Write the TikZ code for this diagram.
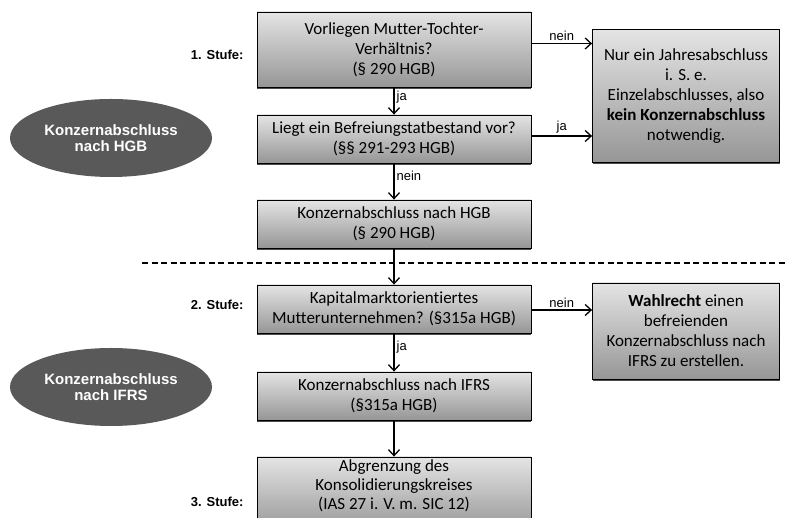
\documentclass[tikz,border=0pt]{standalone}
\usepackage{fontspec}
\setmainfont{Carlito}[Ligatures=NoCommon]
\newfontfamily\arialfont{Liberation Sans}
\usepackage{tikz}
\usetikzlibrary{shapes.geometric,arrows.meta,shadows}

\definecolor{boxTop}{RGB}{228,228,228}
\definecolor{boxBottom}{RGB}{150,150,150}
\definecolor{ovalGray}{RGB}{89,89,89}

\begin{document}
\begin{tikzpicture}[x=1pt,y=1pt,
  box/.style={draw=black,line width=0.8pt,top color=boxTop,bottom color=boxBottom,align=center,inner sep=2pt,
    font=\fontsize{17}{20}\selectfont,
    drop shadow={shadow xshift=0pt,shadow yshift=-1.6pt,opacity=1,fill=black!70}},
  midbox/.style={box,minimum width=274pt},
  sidebox/.style={box,minimum width=187pt},
  oval/.style={ellipse,fill=ovalGray,text=white,align=center,inner sep=0pt,minimum width=202pt,minimum height=78pt,
    font=\arialfont\bfseries\fontsize{15}{16.5}\selectfont},
  stufe/.style={anchor=east,font=\arialfont\bfseries\fontsize{13}{15}\selectfont},
  lab/.style={font=\arialfont\fontsize{13}{15}\selectfont,inner sep=2pt},
  arr/.style={line width=1.3pt,-{Straight Barb[length=6pt,width=11pt]}}]
\clip (0,0) rectangle (787,518);
% Stufe 1 (HGB)
\node[midbox,minimum height=75pt] (mutter) at (394,468.5) {Vorliegen Mutter-Tochter-\\Verhältnis?\\(§ 290 HGB)};
\node[midbox,minimum height=48pt] (befreiung) at (394,379) {Liegt ein Befreiungstatbestand vor?\\(§§ 291-293 HGB)};
\node[midbox,minimum height=48pt] (konzHGB) at (394,294) {Konzernabschluss nach HGB\\(§ 290 HGB)};
\node[sidebox,minimum height=133pt] (einzel) at (686,422) {Nur ein Jahresabschluss\\i. S. e.\\Einzelabschlusses, also\\\textbf{kein Konzernabschluss}\\notwendig.};
% Stufe 2 und 3 (IFRS)
\node[midbox,minimum height=48pt] (kapital) at (394,209) {Kapitalmarktorientiertes\\Mutterunternehmen? (§315a HGB)};
\node[midbox,minimum height=48pt] (konzIFRS) at (394,122) {Konzernabschluss nach IFRS\\(§315a HGB)};
\node[midbox,minimum height=75pt,text depth=20pt,font=\fontsize{17}{19}\selectfont] (kreis) at (394,23.5) {Abgrenzung des\\Konsolidierungskreises\\(IAS 27 i. V. m. SIC 12)};
\node[sidebox,minimum height=96pt] (wahlrecht) at (686,187) {\textbf{Wahlrecht} einen\\befreienden\\Konzernabschluss nach\\IFRS zu erstellen.};
% Ellipsen und Stufen
\node[oval] (ovalHGB) at (111,380) {Konzernabschluss\\nach HGB};
\node[oval] (ovalIFRS) at (111,131) {Konzernabschluss\\nach IFRS};
\node[stufe] (stufe1) at (247,463) {1. Stufe:};
\node[stufe] (stufe2) at (247,213) {2. Stufe:};
\node[stufe] (stufe3) at (247,16) {3. Stufe:};
% Trennlinie
\draw[line width=1.2pt,dash pattern=on 6pt off 3.5pt] (142,255) -- (787,255);
% Pfeile
\draw[arr] (mutter.south) -- node[lab,right,pos=0.35] {ja} (befreiung.north);
\draw[arr] (befreiung.south) -- node[lab,right,pos=0.35] {nein} (konzHGB.north);
\draw[arr] (konzHGB.south) -- (kapital.north);
\draw[arr] (kapital.south) -- node[lab,right,pos=0.35] {ja} (konzIFRS.north);
\draw[arr] (konzIFRS.south) -- (kreis.north);
\coordinate (m1) at ([yshift=6pt]mutter.east);
\coordinate (b1) at ([yshift=3pt]befreiung.east);
\coordinate (k1) at ([yshift=-1pt]kapital.east);
\draw[arr] (m1) -- node[lab,above] {nein} (m1 -| einzel.west);
\draw[arr] (b1) -- node[lab,above] {ja} (b1 -| einzel.west);
\draw[arr] (k1) -- node[lab,above] {nein} (k1 -| wahlrecht.west);
\end{tikzpicture}
\end{document}
